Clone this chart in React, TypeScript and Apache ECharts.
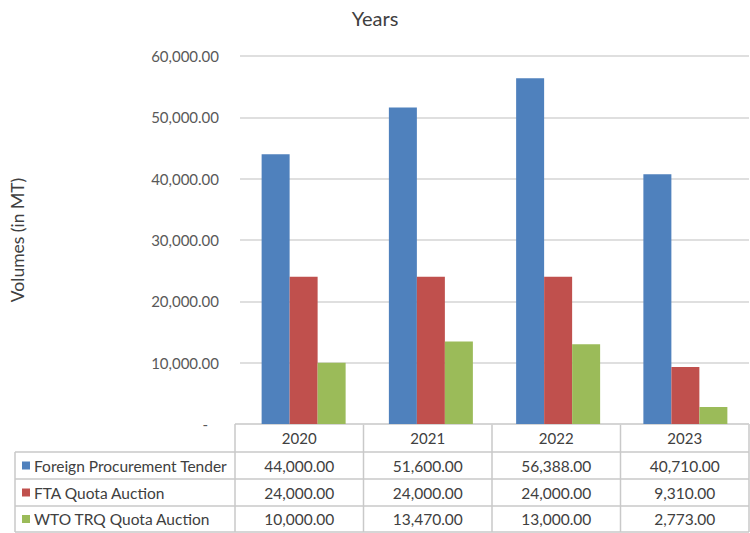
import React, { useEffect, useRef } from "react";
import * as echarts from "echarts";

const categories = ["2020", "2021", "2022", "2023"];
const seriesNames = ["Foreign Procurement Tender", "FTA Quota Auction", "WTO TRQ Quota Auction"];
const foreignProcurement = [44000, 51600, 56388, 40710];
const ftaQuota = [24000, 24000, 24000, 9310];
const wtoTrq = [10000, 13470, 13000, 2773];
const seriesColors = ["#4F81BD", "#C0504D", "#9BBB59"];
const yTicks = { min: 0, max: 60000, interval: 10000 };

const FONT = "Lato, 'Liberation Sans', sans-serif";
const W = 750;
const H = 533;
const GRID_LEFT = 235;
const GRID_RIGHT = 749;
const GRID_TOP = 56;
const GRID_BOTTOM = 424;

const fmt = (v: number) =>
  v.toLocaleString("en-US", { minimumFractionDigits: 2, maximumFractionDigits: 2 });

export default function App() {
  const ref = useRef<HTMLDivElement>(null);
  useEffect(() => {
    document.body.style.margin = "0";
    const chart = echarts.init(ref.current!, undefined, { renderer: "svg" });
    const allSeries = [foreignProcurement, ftaQuota, wtoTrq];

    const lineColor = "#c9c9c9";
    const textColor = "#404040";
    const headerTop = GRID_BOTTOM;
    const rowBounds = [452, 479, 506, 532];
    const colW = (GRID_RIGHT - GRID_LEFT) / categories.length;
    const colEdges = categories.map((_, i) => GRID_LEFT + i * colW).concat([GRID_RIGHT]);
    const tableLeft = 15;

    const graphics: any[] = [];
    const lineStyle = { stroke: lineColor, lineWidth: 1.5 };
    graphics.push({ type: "line", shape: { x1: GRID_LEFT, y1: headerTop, x2: GRID_RIGHT, y2: headerTop }, style: lineStyle, silent: true });
    rowBounds.forEach((y) => {
      graphics.push({ type: "line", shape: { x1: tableLeft, y1: y, x2: GRID_RIGHT, y2: y }, style: lineStyle, silent: true });
    });
    colEdges.forEach((x) => {
      graphics.push({ type: "line", shape: { x1: x, y1: headerTop, x2: x, y2: rowBounds[rowBounds.length - 1] }, style: lineStyle, silent: true });
    });
    graphics.push({ type: "line", shape: { x1: tableLeft, y1: rowBounds[0], x2: tableLeft, y2: rowBounds[rowBounds.length - 1] }, style: lineStyle, silent: true });

    categories.forEach((c, i) => {
      graphics.push({
        type: "text",
        x: (colEdges[i] + colEdges[i + 1]) / 2,
        y: (headerTop + rowBounds[0]) / 2,
        style: { text: c, fill: textColor, font: `15px ${FONT}`, textAlign: "center", textVerticalAlign: "middle" },
        silent: true,
      });
    });
    seriesNames.forEach((name, r) => {
      const cy = (rowBounds[r] + rowBounds[r + 1]) / 2;
      graphics.push({ type: "rect", shape: { x: 22, y: cy - 4, width: 8, height: 8 }, style: { fill: seriesColors[r] }, silent: true });
      graphics.push({
        type: "text",
        x: 34,
        y: cy,
        style: { text: name, fill: textColor, font: `15.5px ${FONT}`, textAlign: "left", textVerticalAlign: "middle" },
        silent: true,
      });
      allSeries[r].forEach((v, i) => {
        graphics.push({
          type: "text",
          x: (colEdges[i] + colEdges[i + 1]) / 2,
          y: cy,
          style: { text: fmt(v), fill: textColor, font: `15.5px ${FONT}`, textAlign: "center", textVerticalAlign: "middle" },
          silent: true,
        });
      });
    });

    chart.setOption({
      animation: false,
      backgroundColor: "#ffffff",
      title: {
        text: "Years",
        left: "center",
        top: 3,
        textStyle: { fontFamily: FONT, fontSize: 20, fontWeight: "normal", color: "#404040" },
      },
      grid: { left: GRID_LEFT, right: W - GRID_RIGHT, top: GRID_TOP, bottom: H - GRID_BOTTOM, containLabel: false },
      xAxis: {
        type: "category",
        data: categories,
        axisLine: { show: false },
        axisTick: { show: false },
        axisLabel: { show: false },
      },
      yAxis: {
        type: "value",
        min: yTicks.min,
        max: yTicks.max,
        interval: yTicks.interval,
        name: "Volumes (in MT)",
        nameLocation: "middle",
        nameGap: 214,
        nameTextStyle: { fontFamily: FONT, fontSize: 17.5, color: "#404040" },
        axisLine: { show: false },
        axisTick: { show: false },
        splitLine: { lineStyle: { color: "#d4d4d4", width: 1.5 } },
        axisLabel: {
          margin: 21,
          color: "#595959",
          fontFamily: FONT,
          fontSize: 15,
          formatter: (v: number) => (v === 0 ? "{z|-}" : fmt(v)),
          rich: { z: { padding: [0, 11, 0, 0], color: "#595959", fontFamily: FONT, fontSize: 15 } },
        },
      },
      series: allSeries.map((d, i) => ({
        name: seriesNames[i],
        type: "bar",
        data: d,
        barWidth: 28,
        barGap: "0%",
        itemStyle: { color: seriesColors[i] },
      })),
      graphic: graphics,
    });
    return () => chart.dispose();
  }, []);
  return <div ref={ref} style={{ width: W, height: H }} />;
}
